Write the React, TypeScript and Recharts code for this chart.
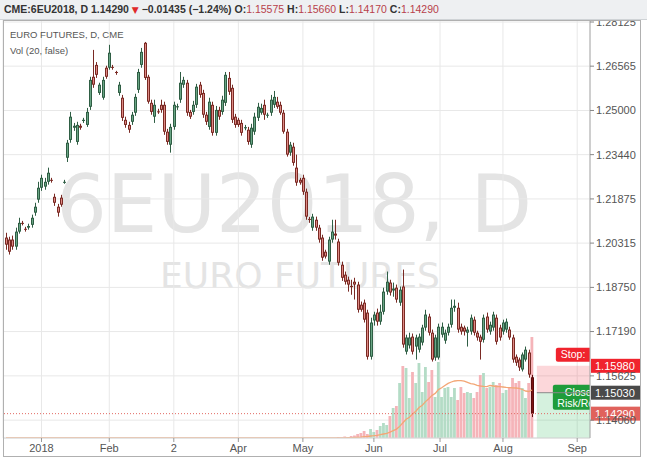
import React from 'react';
import {
  ComposedChart,
  Bar,
  Line,
  XAxis,
  YAxis,
  CartesianGrid,
  ReferenceLine,
  ReferenceArea,
} from 'recharts';

// daily OHLC of 6EU2018, mid Dec 2017 .. 10 Aug 2018
const opens = [
  1.2051, 1.2044, 1.2044, 1.2019, 1.2072, 1.2103, 1.2082, 1.2086, 1.2096, 1.2139,
  1.2185, 1.2227, 1.2231, 1.2248, 1.2255, 1.2195, 1.2160, 1.2192, 1.2245, 1.2333,
  1.2396, 1.2439, 1.2389, 1.2446, 1.2463, 1.2449, 1.2513, 1.2619, 1.2661, 1.2562,
  1.2545, 1.2651, 1.2651, 1.2654, 1.2636, 1.2562, 1.2545, 1.2467, 1.2449, 1.2460,
  1.2492, 1.2573, 1.2661, 1.2739, 1.2619, 1.2527, 1.2478, 1.2497, 1.2520, 1.2520,
  1.2425, 1.2379, 1.2442, 1.2511, 1.2538, 1.2591, 1.2598, 1.2495, 1.2495, 1.2520,
  1.2591, 1.2562, 1.2485, 1.2442, 1.2520, 1.2421, 1.2502, 1.2495, 1.2527, 1.2615,
  1.2580, 1.2478, 1.2467, 1.2456, 1.2437, 1.2432, 1.2379, 1.2425, 1.2474, 1.2492,
  1.2520, 1.2482, 1.2492, 1.2520, 1.2531, 1.2520, 1.2492, 1.2425, 1.2351, 1.2372,
  1.2298, 1.2255, 1.2262, 1.2213, 1.2117, 1.2086, 1.2114, 1.2086, 1.2051, 1.2001,
  1.1966, 1.2044, 1.2065, 1.2037, 1.1955, 1.1920, 1.1902, 1.1880, 1.1895, 1.1885,
  1.1814, 1.1821, 1.1786, 1.1630, 1.1758, 1.1786, 1.1754, 1.1789, 1.1860, 1.1892,
  1.1864, 1.1874, 1.1821, 1.1878, 1.1648, 1.1670, 1.1701, 1.1666, 1.1655, 1.1680,
  1.1733, 1.1772, 1.1715, 1.1627, 1.1627, 1.1708, 1.1687, 1.1715, 1.1743, 1.1803,
  1.1803, 1.1736, 1.1733, 1.1715, 1.1719, 1.1761, 1.1715, 1.1701, 1.1690, 1.1772,
  1.1719, 1.1733, 1.1768, 1.1733, 1.1719, 1.1726, 1.1726, 1.1698, 1.1630, 1.1620,
  1.1585, 1.1620, 1.1645, 1.15575,
];

const highs = [
  1.2068, 1.2054, 1.2058, 1.2086, 1.2121, 1.2110, 1.2089, 1.2100, 1.2132, 1.2174,
  1.2248, 1.2273, 1.2262, 1.2298, 1.2262, 1.2206, 1.2170, 1.2202, 1.2255, 1.2396,
  1.2495, 1.2456, 1.2460, 1.2453, 1.2474, 1.2509, 1.2619, 1.2714, 1.2671, 1.2598,
  1.2619, 1.2658, 1.2732, 1.2661, 1.2640, 1.2601, 1.2555, 1.2478, 1.2460, 1.2495,
  1.2559, 1.2647, 1.2721, 1.2742, 1.2626, 1.2538, 1.2538, 1.2506, 1.2538, 1.2531,
  1.2435, 1.2453, 1.2531, 1.2524, 1.2636, 1.2619, 1.2608, 1.2502, 1.2534, 1.2594,
  1.2601, 1.2573, 1.2495, 1.2545, 1.2531, 1.2516, 1.2513, 1.2552, 1.2636, 1.2636,
  1.2591, 1.2488, 1.2474, 1.2467, 1.2449, 1.2442, 1.2453, 1.2492, 1.2527, 1.2524,
  1.2538, 1.2492, 1.2555, 1.2569, 1.2548, 1.2531, 1.2502, 1.2435, 1.2389, 1.2386,
  1.2344, 1.2262, 1.2273, 1.2224, 1.2124, 1.2135, 1.2125, 1.2096, 1.2061, 1.2008,
  1.2054, 1.2114, 1.2114, 1.2047, 1.1966, 1.1931, 1.1913, 1.1902, 1.1909, 1.1895,
  1.1825, 1.1832, 1.1796, 1.1768, 1.1789, 1.1800, 1.1814, 1.1874, 1.1931, 1.1902,
  1.1892, 1.1885, 1.1878, 1.1938, 1.1708, 1.1715, 1.1712, 1.1708, 1.1712, 1.1743,
  1.1796, 1.1782, 1.1726, 1.1708, 1.1747, 1.1751, 1.1726, 1.1747, 1.1832, 1.1832,
  1.1821, 1.1747, 1.1740, 1.1736, 1.1779, 1.1772, 1.1722, 1.1708, 1.1779, 1.1786,
  1.1754, 1.1789, 1.1779, 1.1743, 1.1761, 1.1765, 1.1736, 1.1708, 1.1638, 1.1627,
  1.1645, 1.1666, 1.1655, 1.1566,
];

const lows = [
  1.2008, 1.1991, 1.2008, 1.2008, 1.2065, 1.2094, 1.2072, 1.2079, 1.2086, 1.2128,
  1.2174, 1.2216, 1.2220, 1.2238, 1.2245, 1.2163, 1.2125, 1.2160, 1.2241, 1.2318,
  1.2386, 1.2428, 1.2379, 1.2432, 1.2456, 1.2442, 1.2502, 1.2580, 1.2615, 1.2555,
  1.2538, 1.2612, 1.2644, 1.2644, 1.2626, 1.2552, 1.2463, 1.2439, 1.2421, 1.2449,
  1.2481, 1.2562, 1.2651, 1.2608, 1.2524, 1.2485, 1.2456, 1.2488, 1.2492, 1.2414,
  1.2379, 1.2351, 1.2432, 1.2502, 1.2527, 1.2580, 1.2481, 1.2470, 1.2485, 1.2509,
  1.2545, 1.2474, 1.2449, 1.2432, 1.2411, 1.2411, 1.2467, 1.2485, 1.2516, 1.2555,
  1.2456, 1.2439, 1.2442, 1.2411, 1.2430, 1.2379, 1.2368, 1.2414, 1.2463, 1.2485,
  1.2467, 1.2474, 1.2481, 1.2509, 1.2506, 1.2485, 1.2418, 1.2337, 1.2340, 1.2305,
  1.2234, 1.2238, 1.2202, 1.2114, 1.2103, 1.2075, 1.2075, 1.2033, 1.1969, 1.1977,
  1.1955, 1.2033, 1.2044, 1.1952, 1.1898, 1.1885, 1.1860, 1.1849, 1.1832, 1.1786,
  1.1789, 1.1751, 1.1620, 1.1620, 1.1740, 1.1740, 1.1743, 1.1779, 1.1849, 1.1846,
  1.1842, 1.1821, 1.1810, 1.1662, 1.1638, 1.1659, 1.1638, 1.1620, 1.1645, 1.1670,
  1.1722, 1.1705, 1.1613, 1.1616, 1.1620, 1.1698, 1.1676, 1.1705, 1.1733, 1.1789,
  1.1715, 1.1708, 1.1705, 1.1666, 1.1708, 1.1705, 1.1687, 1.1620, 1.1680, 1.1715,
  1.1708, 1.1722, 1.1673, 1.1687, 1.1708, 1.1715, 1.1690, 1.1609, 1.1598, 1.1580,
  1.1578, 1.1613, 1.1556, 1.1417,
];

const closes = [
  1.2026, 1.2001, 1.2019, 1.2072, 1.2103, 1.2100, 1.2079, 1.2092, 1.2121, 1.2160,
  1.2227, 1.2262, 1.2248, 1.2280, 1.2252, 1.2174, 1.2139, 1.2167, 1.2248, 1.2386,
  1.2478, 1.2446, 1.2449, 1.2439, 1.2467, 1.2495, 1.2608, 1.2591, 1.2626, 1.2591,
  1.2608, 1.2619, 1.2704, 1.2651, 1.2633, 1.2591, 1.2474, 1.2449, 1.2432, 1.2485,
  1.2548, 1.2636, 1.2707, 1.2615, 1.2531, 1.2495, 1.2520, 1.2495, 1.2502, 1.2425,
  1.2389, 1.2442, 1.2520, 1.2515, 1.2598, 1.2608, 1.2492, 1.2478, 1.2520, 1.2584,
  1.2555, 1.2485, 1.2460, 1.2531, 1.2421, 1.2502, 1.2478, 1.2538, 1.2626, 1.2566,
  1.2467, 1.2449, 1.2449, 1.2421, 1.2441, 1.2389, 1.2439, 1.2478, 1.2513, 1.2509,
  1.2485, 1.2485, 1.2538, 1.2548, 1.2513, 1.2492, 1.2425, 1.2344, 1.2379, 1.2315,
  1.2245, 1.2245, 1.2213, 1.2125, 1.2114, 1.2125, 1.2086, 1.2044, 1.1980, 1.1984,
  1.2044, 1.2072, 1.2058, 1.1962, 1.1909, 1.1895, 1.1885, 1.1876, 1.1885, 1.1796,
  1.1796, 1.1761, 1.1630, 1.1751, 1.1779, 1.1754, 1.1789, 1.1860, 1.1895, 1.1857,
  1.1871, 1.1832, 1.1867, 1.1673, 1.1698, 1.1698, 1.1648, 1.1698, 1.1701, 1.1733,
  1.1779, 1.1715, 1.1620, 1.1698, 1.1736, 1.1736, 1.1715, 1.1736, 1.1803, 1.1810,
  1.1726, 1.1719, 1.1719, 1.1726, 1.1768, 1.1715, 1.1698, 1.1683, 1.1768, 1.1726,
  1.1743, 1.1779, 1.1683, 1.1698, 1.1751, 1.1754, 1.1698, 1.1620, 1.1609, 1.1592,
  1.1638, 1.1655, 1.1567, 1.1429,
];

// volume in thousands of contracts (the Sep contract barely traded before June)
const volumes = [
  0, 0, 0, 0, 0, 0, 0, 0, 0, 0, 0, 0, 0, 0, 0, 0, 0, 0, 0, 0,
  0, 0, 0, 0, 0, 0, 0, 0, 0, 0, 0, 0, 0, 0, 0, 0, 0, 0, 0, 0,
  0, 0, 0, 0, 0, 0, 0, 0, 0, 0, 0, 0, 0, 0, 0, 0, 0, 0, 0, 0,
  0, 0, 0, 0, 0, 0, 0, 0, 0, 0, 0, 0, 0, 0, 0, 0, 0, 0, 0, 0,
  0, 0, 0, 0, 0, 0, 0, 0, 0, 0, 0, 0, 0, 0, 0, 0, 0, 0, 0, 0,
  0, 0, 0,
  1, 0.5, 1.5, 1, 2, 2.5, 4, 5, 7, 4,
  9, 6, 8, 12, 15, 13, 22, 30, 32, 55,
  72, 70, 40, 66, 55, 75, 46, 71, 56, 68,
  41, 76, 41, 50, 51, 41, 50, 38, 51, 45,
  46, 45, 40, 46, 63, 65, 50, 51, 56, 53,
  55, 45, 48, 51, 60, 55, 57, 50, 40, 55,
  101,
];

// Vol (20) moving average, thousands
const volumeMA = [
  0, 0, 0, 0, 0, 0, 0, 0, 0, 0, 0, 0, 0, 0, 0, 0, 0, 0, 0, 0,
  0, 0, 0, 0, 0, 0, 0, 0, 0, 0, 0, 0, 0, 0, 0, 0, 0, 0, 0, 0,
  0, 0, 0, 0, 0, 0, 0, 0, 0, 0, 0, 0, 0, 0, 0, 0, 0, 0, 0, 0,
  0, 0, 0, 0, 0, 0, 0, 0, 0, 0, 0, 0, 0, 0, 0, 0, 0, 0, 0, 0,
  0, 0, 0, 0, 0, 0, 0, 0, 0, 0, 0, 0, 0, 0, 0, 0, 0, 0, 0, 0,
  0, 0, 0,
  0.1, 0.1, 0.2, 0.3, 0.4, 0.5, 0.7, 0.9, 1.3, 1.5,
  2, 2.3, 2.7, 3.3, 4, 4.7, 5.8, 7.3, 8.9, 11.6,
  15.2, 18.7, 20.7, 24, 26.8, 30.5, 32.8, 36.4, 39.2, 42.6,
  44.6, 48.4, 50.3, 52.5, 54.6, 56, 57, 57.3, 57.4, 56.9,
  55.6, 54.3, 53.8, 52.6, 52, 51.6, 51.4, 52.5, 52, 51.5,
  51.3, 51, 50.6, 50.4, 50.2, 50, 49.6, 48.5, 47, 46.5,
  48,
];

// x positions are bar numbers; months start at these bars
const monthTicks = [11, 32, 52, 72, 92, 114, 134.5, 154, 177];
const monthLabels = ['2018', 'Feb', '2', 'Apr', 'May', 'Jun', 'Jul', 'Aug', 'Sep'];

const priceTicks = [1.1406, 1.15625, 1.1719, 1.1875, 1.20315, 1.21875, 1.2344, 1.25, 1.26565, 1.28125];

const stopPrice = 1.1598;
const entryPrice = 1.1503;
const lastPrice = 1.1429;
const positionStartBar = 164.5;

const X_DOMAIN: [number, number] = [-0.93, 180.97];
const PRICE_DOMAIN: [number, number] = [1.1343, 1.28196];

const FONT = '"Liberation Sans", Arial, sans-serif';

const data = opens.map((o, i) => ({
  i,
  open: o,
  high: highs[i],
  low: lows[i],
  close: closes[i],
  range: [lows[i], highs[i]],
  vol: volumes[i] * 1000,
  volMA: volumeMA[i] * 1000,
}));

const Candle = (props: any) => {
  const { x, y, width, height, payload, index } = props;
  if (!payload) return null;
  const { open, close, high, low } = payload;
  const up = close >= open;
  const isLast = index === data.length - 1;
  const span = high - low || 1e-9;
  const py = (p: number) => y + ((high - p) / span) * height;
  const top = py(Math.max(open, close));
  const bot = py(Math.min(open, close));
  const px = Math.round(x + width / 2);
  const edge = isLast ? '#5a0d0d' : up ? '#2f5e44' : '#7a2a24';
  const fill = isLast ? '#7d1414' : up ? '#6aa585' : '#de8a85';
  const h = Math.max(bot - top, 1);
  return (
    <g>
      <line x1={px + 0.5} x2={px + 0.5} y1={y} y2={y + height} stroke={edge} strokeWidth={1} />
      <rect x={px - 1} y={top} width={3} height={h} fill={edge} />
      {h > 2 && <rect x={px} y={top + 1} width={1} height={h - 2} fill={fill} />}
    </g>
  );
};

const VolumeBar = (props: any) => {
  const { x, y, width, height, payload } = props;
  if (!payload || !height) return null;
  const up = payload.close >= payload.open;
  return (
    <rect
      x={x + width / 2 - 1.4}
      y={y}
      width={2.8}
      height={height}
      fill={up ? '#b4dcc6' : '#f5b4b9'}
    />
  );
};

const AxisTag = ({ viewBox, bg, text }: any) => {
  if (!viewBox) return null;
  const right = viewBox.x + viewBox.width;
  return (
    <g>
      <rect x={right + 1} y={viewBox.y - 7} width={50} height={14} fill={bg} />
      <text x={right + 5} y={viewBox.y + 4} fill="#fff" fontSize={11} fontFamily={FONT}>
        {text}
      </text>
    </g>
  );
};

const PositionLabels = ({ viewBox }: any) => {
  if (!viewBox) return null;
  const { x, y, width, height } = viewBox;
  const bottom = y + height;
  return (
    <g>
      <defs>
        <clipPath id="posClip">
          <rect x={x} y={y - 30} width={width} height={height + 80} />
        </clipPath>
      </defs>
      <g clipPath="url(#posClip)" fontFamily={FONT} fontSize={10.5} fill="#fff">
        <rect x={x + 19} y={y - 18} width={45} height={14} rx={2} fill="#f0232d" />
        <text x={x + 24} y={y - 7.5}>Stop:</text>
        <rect x={x + 16} y={bottom - 8} width={60} height={25} rx={2} fill="#1f9c3a" />
        <text x={x + 28} y={bottom + 3}>Closed</text>
        <text x={x + 20.5} y={bottom + 14}>Risk/Reward</text>
      </g>
      <AxisTag viewBox={{ x, y, width, height: 0 }} bg="#f0232d" text={stopPrice.toFixed(5)} />
      <AxisTag viewBox={{ x, y: bottom, width, height: 0 }} bg="#4a4a4a" text={entryPrice.toFixed(5)} />
    </g>
  );
};

const App = () => {
  return (
    <div
      style={{
        position: 'absolute',
        left: 0,
        top: 0,
        width: 647,
        height: 470,
        background: '#fff',
        overflow: 'hidden',
        fontFamily: FONT,
      }}
    >
      {/* watermark */}
      <svg width={647} height={470} style={{ position: 'absolute', left: 0, top: 0 }}>
        <text x={294} y={232} textAnchor="middle" fontSize={80} fontFamily='"DejaVu Sans", sans-serif' fill="#e4e4e4">
          6EU2018, D
        </text>
        <text x={300} y={288} textAnchor="middle" fontSize={36} fontFamily='"DejaVu Sans", sans-serif' fill="#e4e4e4">
          EURO FUTURES
        </text>
      </svg>

      <ComposedChart
        width={647}
        height={470}
        data={data}
        margin={{ top: 20, right: 6, bottom: 0, left: 3 }}
      >
        <CartesianGrid xAxisId="p" yAxisId="p" stroke="#e8e8e8" />
        <XAxis
          xAxisId="p"
          dataKey="i"
          type="number"
          domain={X_DOMAIN}
          allowDataOverflow
          ticks={monthTicks}
          interval={0}
          tickFormatter={(v: number) => monthLabels[monthTicks.indexOf(v)] ?? ''}
          height={32}
          tick={{ fontSize: 11, fill: '#555', fontFamily: FONT }}
          tickSize={4}
          tickMargin={2}
          tickLine={{ stroke: '#999' }}
          axisLine={{ stroke: '#d8d8d8' }}
        />
        <XAxis xAxisId="v" dataKey="i" type="number" domain={X_DOMAIN} allowDataOverflow hide />
        <YAxis
          yAxisId="p"
          orientation="right"
          domain={PRICE_DOMAIN}
          allowDataOverflow
          ticks={priceTicks}
          interval={0}
          width={51}
          tickFormatter={(v: number) => v.toFixed(5)}
          tick={{ fontSize: 11, fill: '#555', fontFamily: FONT }}
          tickSize={4}
          tickMargin={2}
          tickLine={{ stroke: '#888' }}
          axisLine={{ stroke: '#aaa' }}
        />
        <YAxis yAxisId="v" domain={[0, 418000]} allowDataOverflow hide />

        <Bar
          xAxisId="v"
          yAxisId="v"
          dataKey="vol"
          barSize={3}
          shape={(p: any) => <VolumeBar {...p} />}
          isAnimationActive={false}
        />
        <Line
          xAxisId="v"
          yAxisId="v"
          dataKey="volMA"
          type="linear"
          stroke="#f3a675"
          strokeWidth={1.3}
          dot={false}
          isAnimationActive={false}
        />

        <ReferenceArea
          xAxisId="p"
          yAxisId="p"
          x1={positionStartBar}
          x2={X_DOMAIN[1]}
          y1={PRICE_DOMAIN[0]}
          y2={entryPrice}
          fill="#2eb85c"
          fillOpacity={0.2}
          stroke="none"
        />
        <ReferenceArea
          xAxisId="p"
          yAxisId="p"
          x1={positionStartBar}
          x2={X_DOMAIN[1]}
          y1={entryPrice}
          y2={stopPrice}
          fill="#f23645"
          fillOpacity={0.2}
          stroke="none"
        />
        <ReferenceLine
          xAxisId="p"
          yAxisId="p"
          segment={[
            { x: positionStartBar, y: entryPrice },
            { x: X_DOMAIN[1], y: entryPrice },
          ]}
          stroke="#8a8a8a"
        />

        <Bar
          xAxisId="p"
          yAxisId="p"
          dataKey="range"
          barSize={3}
          shape={(p: any) => <Candle {...p} />}
          isAnimationActive={false}
        />

        <ReferenceLine
          xAxisId="p"
          yAxisId="p"
          y={lastPrice}
          stroke="#e26a64"
          strokeDasharray="1 2"
          label={(p: any) => <AxisTag {...p} bg="#e0625c" text={lastPrice.toFixed(5)} />}
        />
        <ReferenceArea
          xAxisId="p"
          yAxisId="p"
          x1={positionStartBar}
          x2={X_DOMAIN[1]}
          y1={entryPrice}
          y2={stopPrice}
          fill="none"
          stroke="none"
          label={(p: any) => <PositionLabels {...p} />}
        />
      </ComposedChart>

      {/* legend */}
      <div style={{ position: 'absolute', left: 10, top: 29, fontSize: 9.5, color: '#555', lineHeight: '12px' }}>
        EURO FUTURES, D, CME
      </div>
      <div style={{ position: 'absolute', left: 10, top: 45, fontSize: 9.5, color: '#555', lineHeight: '12px' }}>
        Vol (20, false)
      </div>

      {/* frame */}
      <div
        style={{
          position: 'absolute',
          left: 3,
          top: 20,
          width: 638,
          height: 437,
          border: '1px solid #b0b0b0',
          boxSizing: 'border-box',
          pointerEvents: 'none',
        }}
      />

      {/* header */}
      <div
        style={{
          position: 'absolute',
          left: 0,
          top: 0,
          width: 647,
          height: 20,
          background: '#eef0f2',
          borderBottom: '1px solid #cfd3d6',
          boxSizing: 'border-box',
          paddingLeft: 4,
          lineHeight: '19px',
          fontSize: 10.5,
          fontWeight: 'bold',
          color: '#333',
          whiteSpace: 'nowrap',
        }}
      >
        CME:6EU2018, D 1.14290{' '}
        <span style={{ color: '#e02a2a', fontFamily: '"DejaVu Sans", sans-serif', fontSize: 9 }}>▼</span>{' '}
        −0.01435 (−1.24%) O:<span style={{ color: '#b8404a', fontWeight: 'normal' }}>1.15575</span> H:
        <span style={{ color: '#b8404a', fontWeight: 'normal' }}>1.15660</span> L:
        <span style={{ color: '#b8404a', fontWeight: 'normal' }}>1.14170</span> C:
        <span style={{ color: '#b8404a', fontWeight: 'normal' }}>1.14290</span>
      </div>
    </div>
  );
};

export default App;
